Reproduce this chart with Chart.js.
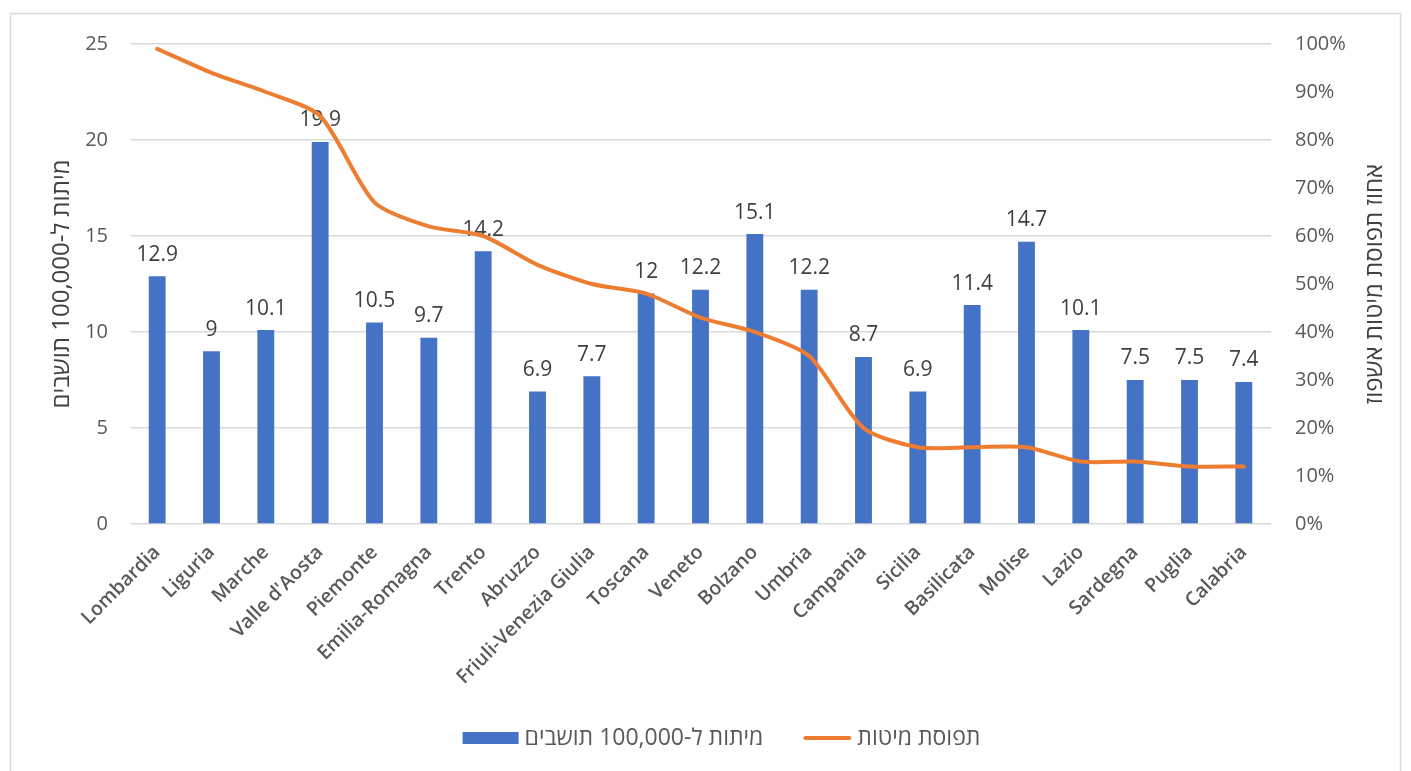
<!DOCTYPE html>
<html lang="he">
<head>
<meta charset="utf-8">
<title>מיתות ותפוסת מיטות לפי אזור</title>
<script src="https://cdn.jsdelivr.net/npm/chart.js@4/dist/chart.umd.min.js"></script>
<style>
  html, body { margin: 0; padding: 0; background: #ffffff; }
  #wrap { width: 1411px; height: 771px; position: relative; }
</style>
</head>
<body>
<div id="wrap"><canvas id="chart" width="1411" height="771"></canvas></div>
<script>
// Regions of Italy
const regions = [
  'Lombardia', 'Liguria', 'Marche', "Valle d'Aosta", 'Piemonte', 'Emilia-Romagna',
  'Trento', 'Abruzzo', 'Friuli-Venezia Giulia', 'Toscana', 'Veneto', 'Bolzano',
  'Umbria', 'Campania', 'Sicilia', 'Basilicata', 'Molise', 'Lazio', 'Sardegna',
  'Puglia', 'Calabria'
];

// Deaths per 100,000 residents
const deathsPer100k = [
  12.9, 9, 10.1, 19.9, 10.5, 9.7, 14.2, 6.9, 7.7, 12, 12.2, 15.1,
  12.2, 8.7, 6.9, 11.4, 14.7, 10.1, 7.5, 7.5, 7.4
];

// Hospital bed occupancy (%)
const bedOccupancy = [
  99, 94, 90, 85, 67, 62, 60, 54, 50, 48, 43, 40,
  35, 20, 16, 16, 16, 13, 13, 12, 12
];

const leftTicks = [0, 5, 10, 15, 20, 25];
const rightTicks = [0, 10, 20, 30, 40, 50, 60, 70, 80, 90, 100];

const seriesNames = ['מיתות ל-100,000 תושבים', 'תפוסת מיטות'];
const axisTitles = ['מיתות ל-100,000 תושבים', 'אחוז תפוסת מיטות אשפוז'];

const BLUE = '#4472C4';
const ORANGE = '#ED7D31';
const TEXT = '#595959';
const TITLE = '#404040';
const GRID = '#D9D9D9';
const FONT = "'Open Sans', 'DejaVu Sans', sans-serif";

// Light frame around the whole chart
const framePlugin = {
  id: 'frame',
  beforeDraw(chart) {
    const ctx = chart.ctx;
    ctx.save();
    ctx.strokeStyle = '#D9D9D9';
    ctx.lineWidth = 1.5;
    ctx.strokeRect(10.5, 13.5, 1390, 800);
    ctx.restore();
  }
};

// Value labels above the bars (drawn before the line so the line stays on top)
const barLabels = {
  id: 'barLabels',
  afterDatasetDraw(chart, args) {
    if (args.meta.type !== 'bar') return;
    const ctx = chart.ctx;
    const values = chart.data.datasets[args.index].data;
    ctx.save();
    ctx.font = '21px ' + FONT;
    ctx.fillStyle = TITLE;
    ctx.textAlign = 'center';
    ctx.textBaseline = 'bottom';
    args.meta.data.forEach((bar, i) => {
      ctx.fillText(String(values[i]), bar.x, bar.y - 11);
    });
    ctx.restore();
  }
};

// Right axis title, reading bottom-to-top like the left one
const rightTitle = {
  id: 'rightTitle',
  afterDraw(chart) {
    const ctx = chart.ctx;
    const area = chart.chartArea;
    ctx.save();
    ctx.translate(chart.width - 36, (area.top + area.bottom) / 2);
    ctx.rotate(-Math.PI / 2);
    ctx.font = '24px ' + FONT;
    ctx.fillStyle = TITLE;
    ctx.textAlign = 'center';
    ctx.textBaseline = 'middle';
    ctx.fillText(axisTitles[1], 0, 0);
    ctx.restore();
  }
};

// Legend row under the axis labels: swatch on the left of each name
const legendRow = {
  id: 'legendRow',
  afterDraw(chart) {
    const ctx = chart.ctx;
    const y = chart.height - 33;
    const swatch = [56, 48];
    const gap = 6, itemGap = 40;
    ctx.save();
    ctx.font = '23px ' + FONT;
    const widths = chart.data.datasets.map(ds => ctx.measureText(ds.label).width);
    let total = 0;
    widths.forEach((w, i) => { total += swatch[i] + gap + w; });
    total += itemGap * (widths.length - 1);
    let x = chart.width / 2 + 16 - total / 2;
    chart.data.datasets.forEach((ds, i) => {
      if (ds.type === 'bar') {
        ctx.fillStyle = BLUE;
        ctx.fillRect(x, y - 6, swatch[i], 12);
      } else {
        ctx.strokeStyle = ORANGE;
        ctx.lineWidth = 4;
        ctx.lineCap = 'round';
        ctx.beginPath();
        ctx.moveTo(x + 2, y);
        ctx.lineTo(x + swatch[i] - 2, y);
        ctx.stroke();
      }
      x += swatch[i] + gap;
      ctx.fillStyle = TEXT;
      ctx.textAlign = 'left';
      ctx.textBaseline = 'middle';
      ctx.fillText(ds.label, x, y);
      x += widths[i] + itemGap;
    });
    ctx.restore();
  }
};

new Chart(document.getElementById('chart'), {
  data: {
    labels: regions,
    datasets: [
      {
        type: 'bar',
        label: seriesNames[0],
        data: deathsPer100k,
        yAxisID: 'y',
        backgroundColor: BLUE,
        borderWidth: 0,
        barPercentage: 0.31,
        categoryPercentage: 1,
        order: 1
      },
      {
        type: 'line',
        label: seriesNames[1],
        data: bedOccupancy,
        yAxisID: 'y1',
        borderColor: ORANGE,
        backgroundColor: ORANGE,
        borderWidth: 4,
        pointRadius: 0,
        tension: 0.25,
        borderCapStyle: 'round',
        borderJoinStyle: 'round',
        order: 0
      }
    ]
  },
  options: {
    responsive: false,
    animation: false,
    layout: { padding: { top: 44, bottom: 0, left: 0, right: 0 } },
    plugins: {
      tooltip: { enabled: false },
      legend: { display: false }
    },
    scales: {
      x: {
        grid: { display: false, drawTicks: false },
        border: { display: false },
        ticks: {
          color: TEXT,
          font: { family: FONT, size: 19.5, weight: '600' },
          maxRotation: 45,
          minRotation: 45,
          autoSkip: false,
          padding: 17
        },
        afterFit(scale) { scale.height = 247; }
      },
      y: {
        position: 'left',
        min: 0,
        max: 25,
        afterBuildTicks(scale) { scale.ticks = leftTicks.map(v => ({ value: v })); },
        grid: { color: GRID, lineWidth: 1.5, drawTicks: false },
        border: { display: false },
        ticks: {
          color: TEXT,
          font: { family: FONT, size: 20 },
          padding: 22
        },
        title: {
          display: true,
          text: axisTitles[0],
          color: TITLE,
          font: { family: FONT, size: 24 },
          padding: { top: 48, bottom: 0 }
        },
        afterFit(scale) { scale.width = 130; }
      },
      y1: {
        position: 'right',
        min: 0,
        max: 100,
        afterBuildTicks(scale) { scale.ticks = rightTicks.map(v => ({ value: v })); },
        grid: { display: false, drawTicks: false },
        border: { display: false },
        ticks: {
          color: TEXT,
          font: { family: FONT, size: 20 },
          padding: 24,
          callback: v => v + '%'
        },
        afterFit(scale) { scale.width = 140; }
      }
    }
  },
  plugins: [framePlugin, barLabels, rightTitle, legendRow]
});
</script>
</body>
</html>
